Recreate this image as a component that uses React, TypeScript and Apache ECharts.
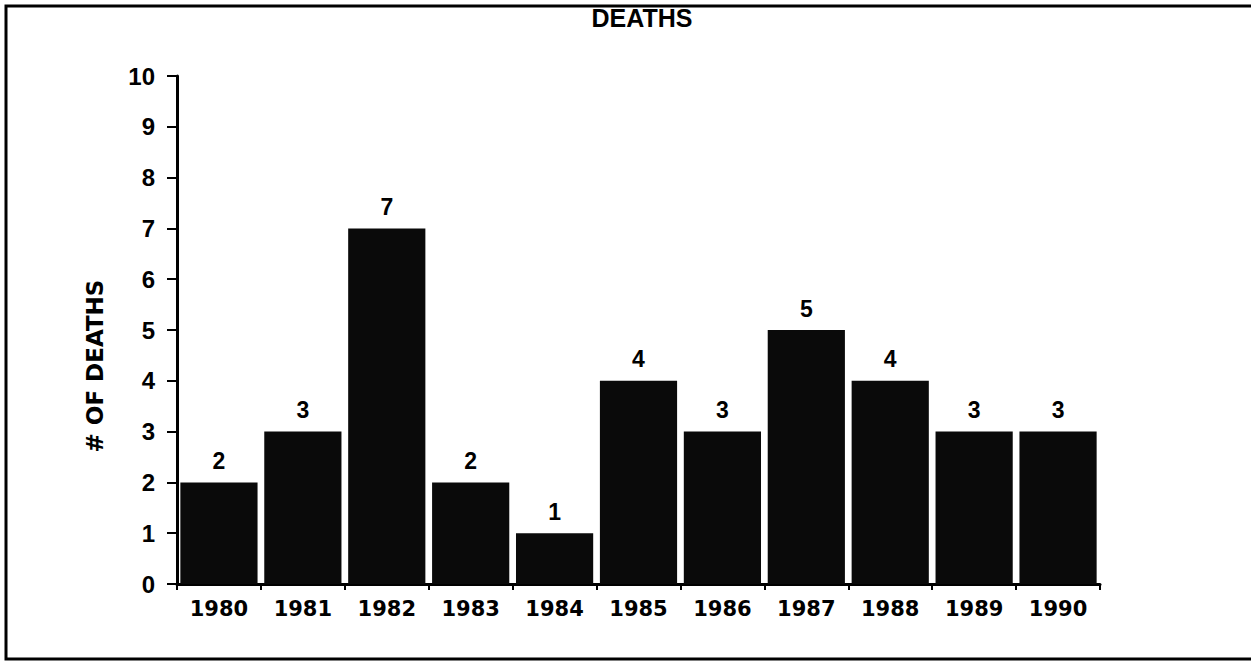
import React, { useEffect, useRef } from "react";
import * as echarts from "echarts";

const years = ["1980", "1981", "1982", "1983", "1984", "1985", "1986", "1987", "1988", "1989", "1990"];
const deaths = [2, 3, 7, 2, 1, 4, 3, 5, 4, 3, 3];
const titleText = "DEATHS";
const yAxisName = "# OF DEATHS";

export default function App() {
  const ref = useRef<HTMLDivElement>(null);
  useEffect(() => {
    document.body.style.margin = "0";
    const chart = echarts.init(ref.current!, null, { renderer: "svg" });
    const font = "'Liberation Sans', Arial, Helvetica, sans-serif";
    chart.setOption({
      animation: false,
      backgroundColor: "#ffffff",
      textStyle: { fontFamily: font },
      title: {
        text: titleText,
        left: 637,
        textAlign: "center",
        top: 0,
        textStyle: { fontSize: 25, fontWeight: "bold", color: "#000", fontFamily: font },
      },
      graphic: [
        {
          type: "rect",
          shape: { x: 6, y: 6, width: 1300, height: 653 },
          style: { fill: "none", stroke: "#000", lineWidth: 3 },
          silent: true,
        },
      ],
      grid: { left: 177, right: 151, top: 76, bottom: 77 },
      xAxis: {
        type: "category",
        data: years,
        axisLine: { lineStyle: { color: "#000", width: 3 } },
        axisTick: { show: true, alignWithLabel: false, length: 6, lineStyle: { color: "#000", width: 2 } },
        axisLabel: {
          color: "#000",
          fontSize: 21,
          fontWeight: "bold",
          fontFamily: "'DejaVu Sans', sans-serif",
          margin: 14,
        },
      },
      yAxis: {
        type: "value",
        min: 0,
        max: 10,
        interval: 1,
        name: yAxisName,
        nameLocation: "middle",
        nameGap: 71,
        nameRotate: 90,
        nameTextStyle: {
          color: "#000",
          fontSize: 23,
          fontWeight: "bold",
          fontFamily: "'DejaVu Sans', sans-serif",
          padding: [0, 72, 0, 0],
        },
        axisLine: { show: true, lineStyle: { color: "#000", width: 3 } },
        axisTick: { show: true, length: 10, lineStyle: { color: "#000", width: 2 } },
        splitLine: { show: false },
        axisLabel: { color: "#000", fontSize: 24, fontWeight: "bold", margin: 22, fontFamily: font },
      },
      series: [
        {
          type: "bar",
          data: deaths,
          barCategoryGap: "8%",
          itemStyle: { color: "#0a0a0a" },
          label: {
            show: true,
            position: "top",
            distance: 10,
            color: "#000",
            fontSize: 23,
            fontWeight: "bold",
            fontFamily: font,
          },
        },
      ],
    });
    return () => chart.dispose();
  }, []);
  return <div ref={ref} style={{ width: 1251, height: 661 }} />;
}
